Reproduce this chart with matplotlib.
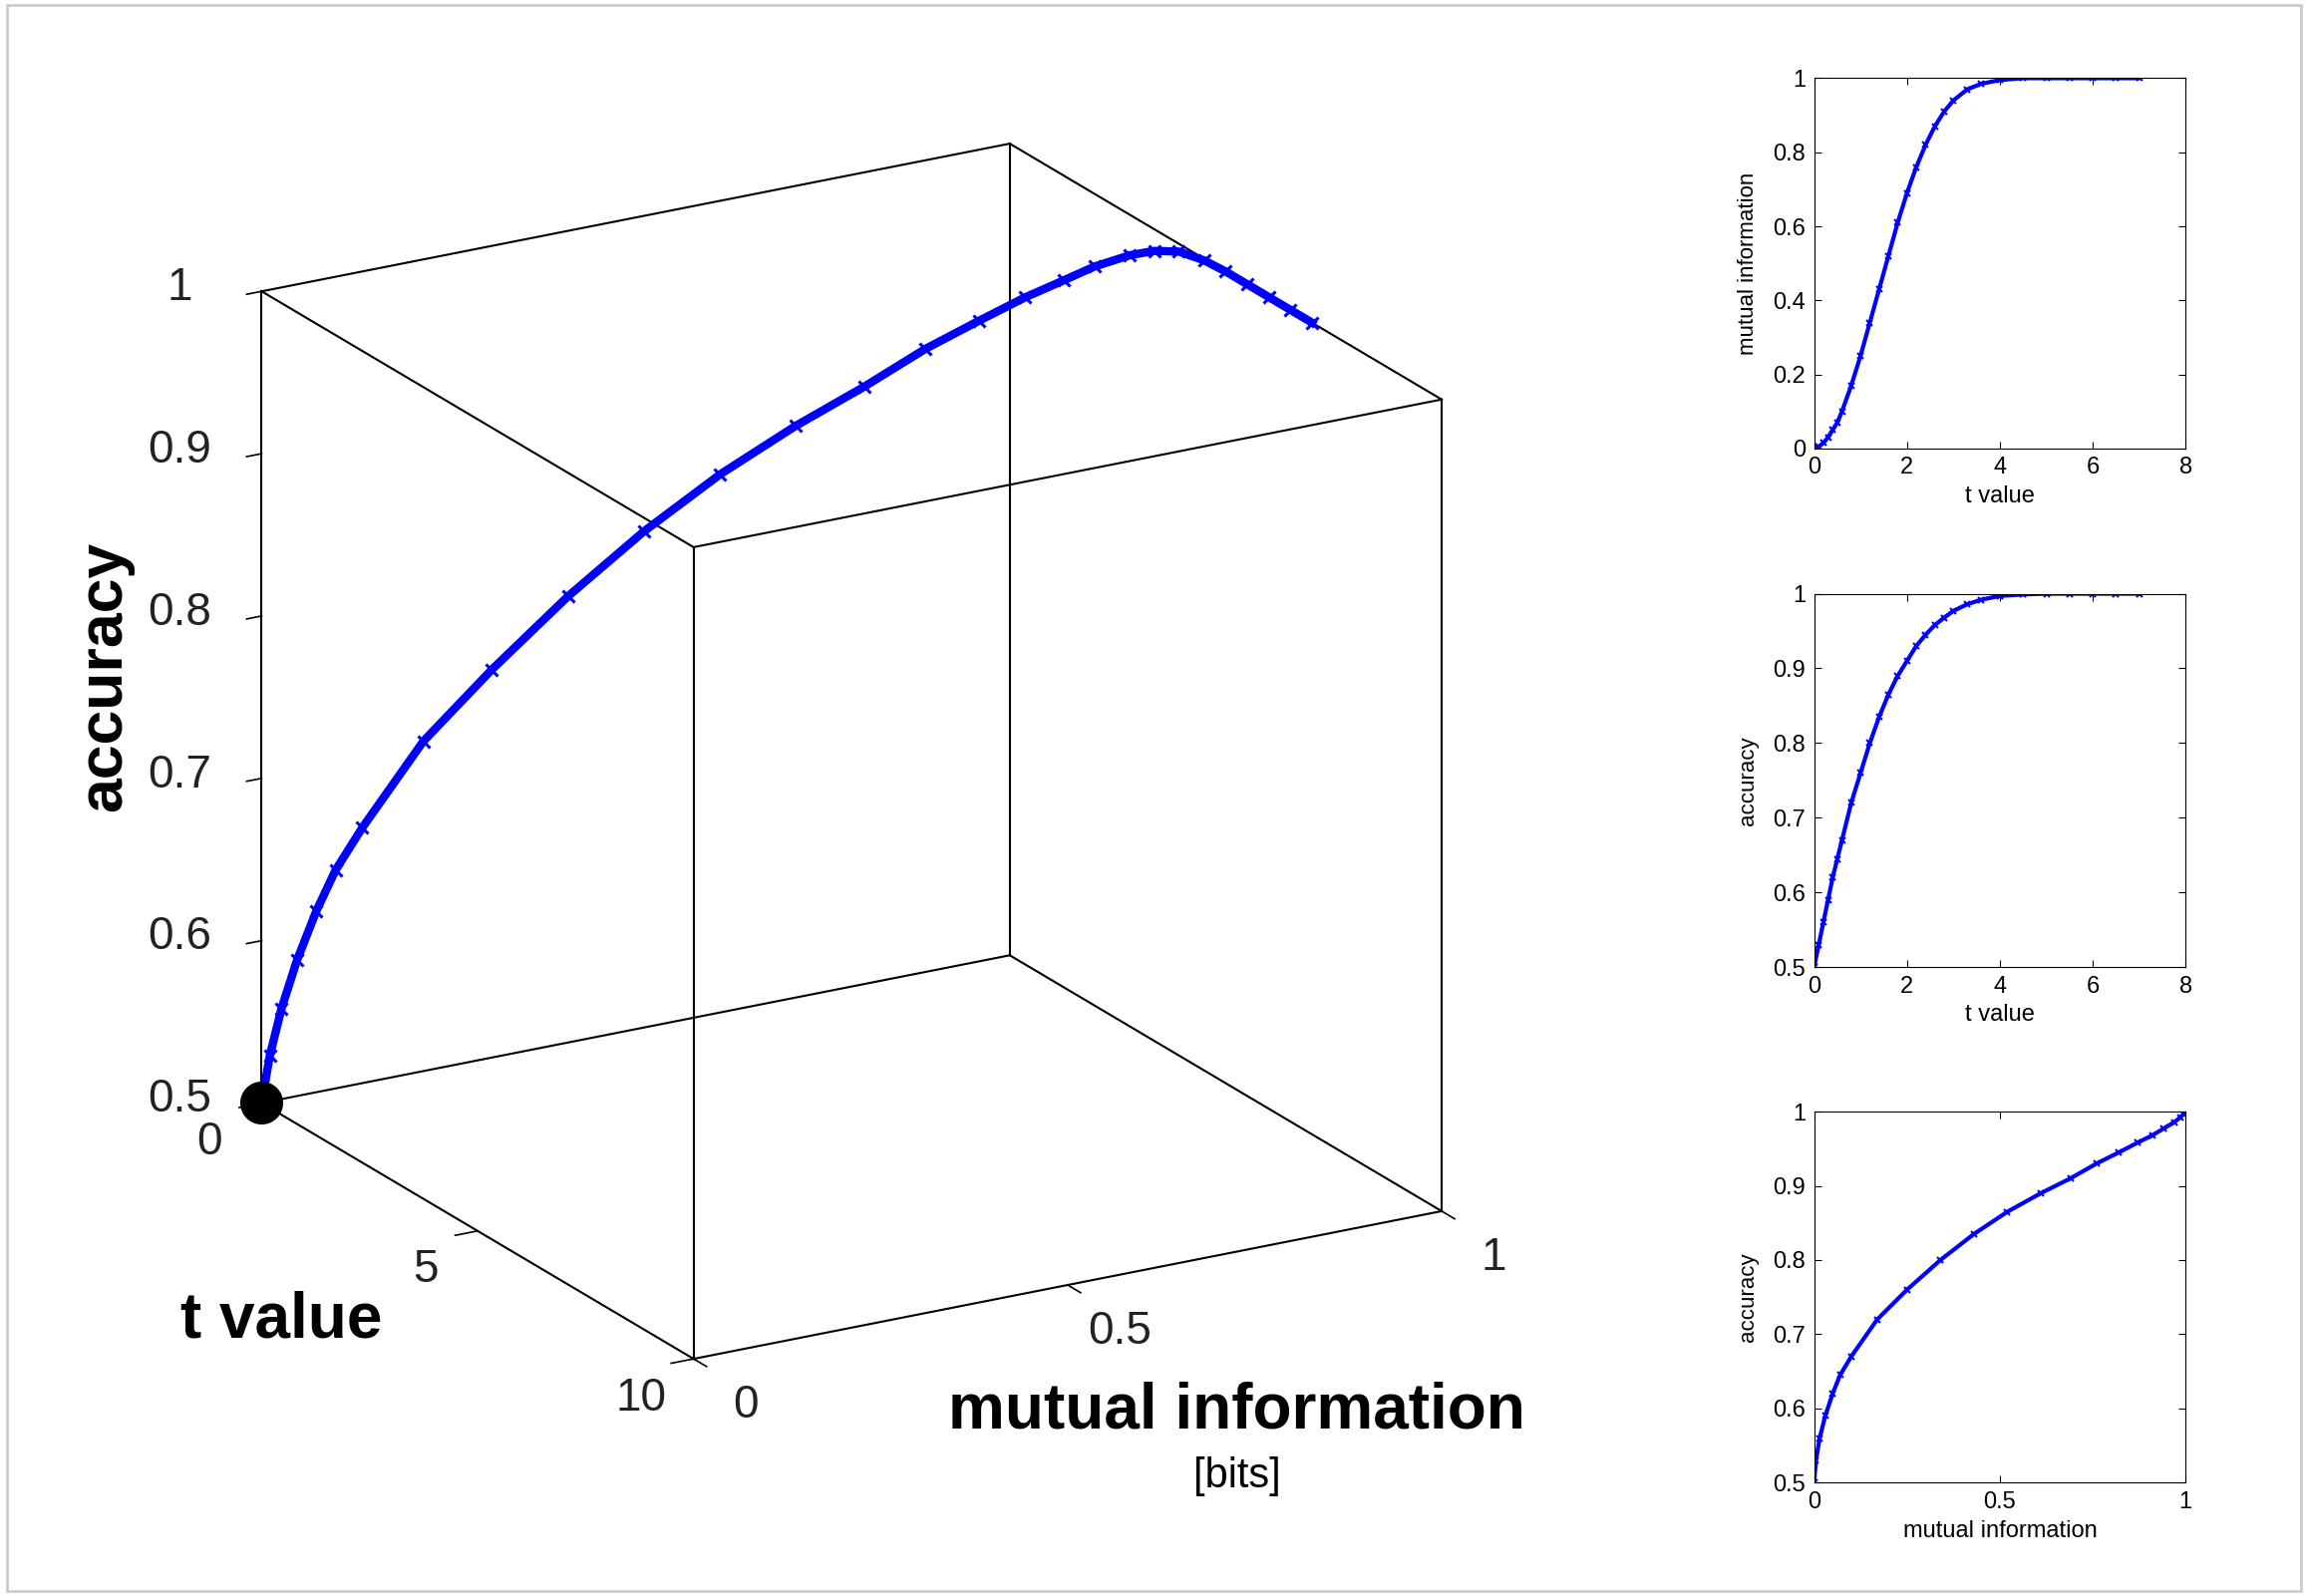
import matplotlib
matplotlib.use("Agg")
import matplotlib.pyplot as plt
from matplotlib.patches import Rectangle

plt.rcParams["font.family"] = ["Liberation Sans", "DejaVu Sans"]

t_vals = [0, 0.1, 0.2, 0.3, 0.4, 0.5, 0.6, 0.8, 1.0, 1.2, 1.4, 1.6, 1.8, 2.0, 2.2, 2.4,
          2.6, 2.8, 3.0, 3.3, 3.6, 4.0, 4.5, 5.0, 5.5, 6.0, 6.5, 7.0]
mi_vals = [0, 0.005, 0.015, 0.03, 0.05, 0.07, 0.1, 0.17, 0.25, 0.34, 0.43, 0.52, 0.61, 0.69,
           0.76, 0.82, 0.87, 0.91, 0.94, 0.97, 0.985, 0.995, 1, 1, 1, 1, 1, 1]
acc_vals = [0.5, 0.53, 0.56, 0.59, 0.62, 0.645, 0.67, 0.72, 0.76, 0.8, 0.835, 0.865, 0.89,
            0.91, 0.93, 0.945, 0.958, 0.968, 0.977, 0.986, 0.992, 0.997, 0.999, 1, 1, 1, 1, 1]

mi_ticks = [0, 0.5, 1]
t_ticks = [0, 5, 10]
acc_ticks = [0.5, 0.6, 0.7, 0.8, 0.9, 1]

BLUE = "#0000ff"
fig = plt.figure(figsize=(23.15, 16.01), dpi=100)
fig.patches.append(Rectangle((0.003, 0.003), 0.994, 0.994, transform=fig.transFigure,
                             fill=False, edgecolor="#cccccc", lw=2))

# ---- 3D plot ----
ax = fig.add_axes([0.024, 0.062, 0.673, 0.91], projection="3d", proj_type="ortho")
ax.set_axis_off()
ax.set_xlim(1, 0); ax.set_ylim(0, 10); ax.set_zlim(0.5, 1)
ax.view_init(elev=20, azim=60)
ax.set_box_aspect((1, 1, 1))
X = [0, 1]; Y = [0, 10]; Z = [0.5, 1]
for a in X:
    for b in Y:
        ax.plot([a, a], [b, b], Z, color="k", lw=1.5)
    for c in Z:
        ax.plot([a, a], Y, [c, c], color="k", lw=1.5)
for b in Y:
    for c in Z:
        ax.plot(X, [b, b], [c, c], color="k", lw=1.5)
# tick marks
for z in acc_ticks:
    ax.plot([0, -0.02], [0, 0], [z, z], color="k", lw=1.2)
for tv in t_ticks:
    ax.plot([0, -0.03], [tv, tv], [0.5, 0.5], color="k", lw=1.2)
for m in mi_ticks:
    ax.plot([m, m], [10, 10.3], [0.5, 0.5], color="k", lw=1.2)
ax.plot(mi_vals, t_vals, acc_vals, color=BLUE, lw=6, marker="x", ms=9, mew=2.2)
ax.scatter([mi_vals[0]], [t_vals[0]], [acc_vals[0]], color="k", s=900, depthshade=False)
fs = 33
for z in acc_ticks:
    ax.text(-0.11, 0, z + 0.012, f"{z:g}", ha="center", va="center", fontsize=fs, color="#222222")
for tv in t_ticks:
    ax.text(-0.07, tv, 0.482, f"{tv:g}", ha="center", va="center", fontsize=fs, color="#222222")
for m in mi_ticks:
    ax.text(m, 11.2, 0.49, f"{m:g}", ha="center", va="center", fontsize=fs, color="#222222")
fig.text(0.045, 0.576, "accuracy", ha="center", va="center", rotation=90,
         fontsize=45, fontweight="bold")
fig.text(0.122, 0.173, "t value", ha="center", va="center", fontsize=46, fontweight="bold")
fig.text(0.536, 0.116, "mutual information", ha="center", va="center", fontsize=46,
         fontweight="bold")
fig.text(0.536, 0.075, "[bits]", ha="center", va="center", fontsize=30)

# ---- small plots ----
def small(rect, x, y, xlim, ylim, xt, yt, xl, yl):
    a = fig.add_axes(rect)
    a.plot(x, y, color=BLUE, lw=3, marker="x", ms=4, mew=1.5)
    a.set_xlim(*xlim); a.set_ylim(*ylim)
    a.set_xticks(xt); a.set_yticks(yt)
    a.set_xticklabels([f"{v:g}" for v in xt]); a.set_yticklabels([f"{v:g}" for v in yt])
    a.tick_params(direction="in", labelsize=17, top=True, right=True, length=5, pad=6)
    a.set_xlabel(xl, fontsize=17, labelpad=5)
    a.set_ylabel(yl, fontsize=16, labelpad=10)

small([0.786, 0.719, 0.161, 0.232], t_vals, mi_vals, (0, 8), (0, 1), [0, 2, 4, 6, 8],
      [0, 0.2, 0.4, 0.6, 0.8, 1], "t value", "mutual information")
small([0.786, 0.394, 0.161, 0.234], t_vals, acc_vals, (0, 8), (0.5, 1), [0, 2, 4, 6, 8],
      acc_ticks, "t value", "accuracy")
small([0.786, 0.071, 0.161, 0.2325], mi_vals, acc_vals, (0, 1), (0.5, 1), [0, 0.5, 1],
      acc_ticks, "mutual information", "accuracy")

fig.savefig("out.png", dpi=100)
